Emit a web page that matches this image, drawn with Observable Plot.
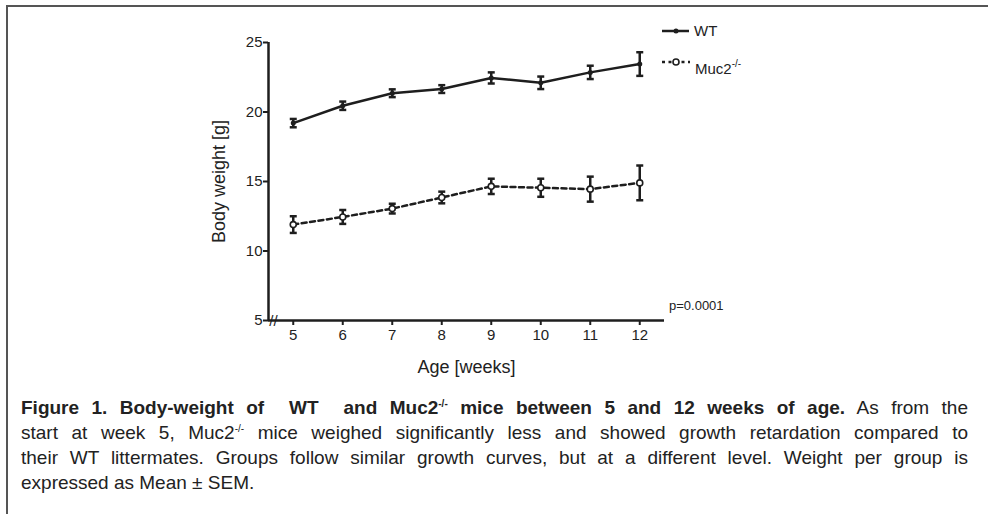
<!DOCTYPE html>
<html><head><meta charset="utf-8">
<script src="https://cdn.jsdelivr.net/npm/d3@7"></script>
<script src="https://cdn.jsdelivr.net/npm/@observablehq/plot@0.6"></script>
<style>
body{margin:0;background:#fff;width:988px;height:514px;overflow:hidden;position:relative;font-family:"Liberation Sans",Arial,sans-serif;color:#222}
#frame{position:absolute;left:6px;top:5px;width:1000px;height:600px;border-top:2px solid #555;border-left:2px solid #555}
#chart{position:absolute;left:0;top:0}
#legend{position:absolute;left:0;top:0}
#pval{position:absolute;left:669px;top:298px;font-size:13px;color:#222}
#caption{position:absolute;left:21px;top:395px;width:947px;font-family:"Liberation Sans",Arial,sans-serif;font-size:19px;line-height:25px;color:#222}
#caption .l{text-align:justify;text-align-last:justify;white-space:nowrap}
#caption .last{text-align:left;text-align-last:left}
sup{font-size:10px;line-height:0}
</style></head>
<body>
<div id="frame"></div>
<div id="chart"></div>
<svg id="legend" width="988" height="100"></svg>
<div id="pval">p=0.0001</div>
<div id="caption"></div>
<script>
const weeks = [5, 6, 7, 8, 9, 10, 11, 12];
const wtMean = [19.2, 20.45, 21.35, 21.65, 22.45, 22.1, 22.85, 23.45];
const wtSem = [0.3, 0.3, 0.28, 0.28, 0.4, 0.45, 0.48, 0.85];
const mucMean = [11.9, 12.45, 13.05, 13.85, 14.65, 14.55, 14.45, 14.9];
const mucSem = [0.6, 0.5, 0.35, 0.42, 0.55, 0.65, 0.9, 1.25];
const yTicks = [5, 10, 15, 20, 25];
const xTicks = [5, 6, 7, 8, 9, 10, 11, 12];

const wt = weeks.map((w, i) => ({week: w, mean: wtMean[i], sem: wtSem[i]}));
const muc = weeks.map((w, i) => ({week: w, mean: mucMean[i], sem: mucSem[i]}));

const ink = "#1e1e1e";
const hline = {draw(ctx, size) { const r = Math.sqrt(size / Math.PI); ctx.moveTo(-r, 0); ctx.lineTo(r, 0); }};

function errMarks(data) {
  return [
    Plot.ruleX(data, {x: "week", y1: d => d.mean - d.sem, y2: d => d.mean + d.sem, stroke: ink, strokeWidth: 2.5}),
    Plot.dot(data, {x: "week", y: d => d.mean + d.sem, symbol: hline, r: 3.5, stroke: ink, strokeWidth: 2.5, fill: "none"}),
    Plot.dot(data, {x: "week", y: d => d.mean - d.sem, symbol: hline, r: 3.5, stroke: ink, strokeWidth: 2.5, fill: "none"})
  ];
}

const chart = Plot.plot({
  width: 988, height: 390,
  marginLeft: 268, marginRight: 324, marginTop: 42, marginBottom: 70,
  style: {fontFamily: '"Liberation Sans", Arial, sans-serif', color: "#222", background: "transparent"},
  x: {domain: [4.5, 12.5]},
  y: {domain: [5, 25]},
  marks: [
    Plot.axisY({ticks: yTicks, tickSize: 5, tickPadding: 1, fontSize: 15, stroke: ink, strokeWidth: 2, label: null}),
    Plot.axisY({ticks: [], label: "Body weight [g]", labelAnchor: "center", labelArrow: "none", labelOffset: 56, fontSize: 18}),
    Plot.axisX({ticks: xTicks, tickSize: 5, tickPadding: 4, fontSize: 15, stroke: ink, strokeWidth: 2, label: null}),
    Plot.axisX({ticks: [], label: "Age [weeks]", labelAnchor: "center", labelArrow: "none", labelOffset: 52, fontSize: 18}),
    Plot.ruleX([4.5], {stroke: ink, strokeWidth: 2.5}),
    Plot.ruleY([5], {stroke: ink, strokeWidth: 2.5}),
    Plot.text(["//"], {x: 4.5, y: 5, text: d => d, fontSize: 15, fill: ink, dx: 5, dy: 1}),
    Plot.line(wt, {x: "week", y: "mean", stroke: ink, strokeWidth: 2.5}),
    Plot.line(muc, {x: "week", y: "mean", stroke: ink, strokeWidth: 2.5, strokeDasharray: "5,3.5"}),
    ...errMarks(wt),
    ...errMarks(muc),
    Plot.dot(wt, {x: "week", y: "mean", r: 2.5, fill: ink}),
    Plot.dot(muc, {x: "week", y: "mean", r: 3, fill: "white", stroke: ink, strokeWidth: 1.6})
  ]
});
document.getElementById("chart").appendChild(chart);

// legend
const lg = d3.select("#legend");
lg.append("line").attr("x1", 662).attr("x2", 689).attr("y1", 31).attr("y2", 31).attr("stroke", ink).attr("stroke-width", 2.5);
lg.append("circle").attr("cx", 676).attr("cy", 31).attr("r", 2.5).attr("fill", ink);
lg.append("text").attr("x", 694).attr("y", 36).attr("font-size", 15).attr("fill", "#222").attr("font-family", "Liberation Sans, Arial, sans-serif").text("WT");
lg.append("line").attr("x1", 662).attr("x2", 690).attr("y1", 62).attr("y2", 62).attr("stroke", ink).attr("stroke-width", 2.5).attr("stroke-dasharray", "3,3.5");
lg.append("circle").attr("cx", 676).attr("cy", 62).attr("r", 3).attr("fill", "white").attr("stroke", ink).attr("stroke-width", 1.6);
const mt = lg.append("text").attr("x", 695).attr("y", 74).attr("font-size", 15).attr("fill", "#222").attr("font-family", "Liberation Sans, Arial, sans-serif");
mt.append("tspan").text("Muc2");
mt.append("tspan").attr("dy", -7).attr("font-size", 10).text("-/-");

// caption
const lines = [
  '<b>Figure 1. Body-weight of &nbsp;WT &nbsp;and Muc2<sup>-/-</sup> mice between 5 and 12 weeks of age.</b> As from the',
  'start at week 5, Muc2<sup>-/-</sup> mice weighed significantly less and showed growth retardation compared to',
  'their WT littermates. Groups follow similar growth curves, but at a different level. Weight per group is',
  'expressed as Mean ± SEM.'
];
document.getElementById("caption").innerHTML = lines.map((l, i) => `<div class="l${i === lines.length - 1 ? " last" : ""}">${l}</div>`).join("");
</script>
</body></html>
